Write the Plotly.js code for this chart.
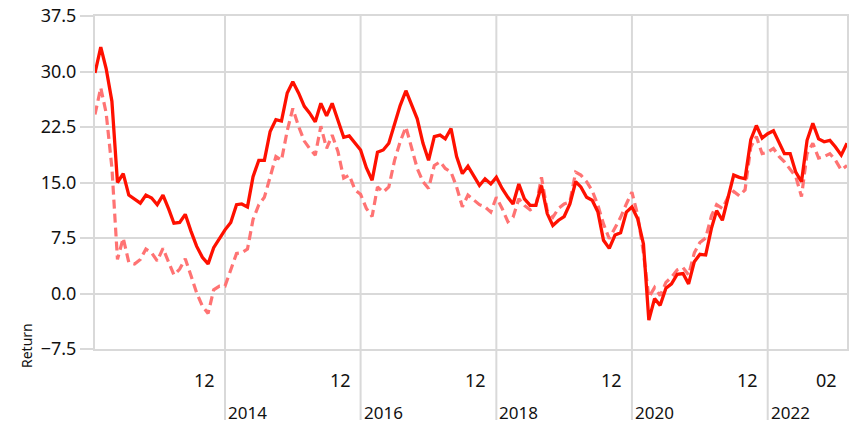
<!DOCTYPE html>
<html>
<head>
<meta charset="utf-8">
<script src="https://cdn.plot.ly/plotly-3.0.1.min.js"></script>
<style>html,body{margin:0;padding:0;background:#fff;}#chart{width:850px;height:425px;}</style>
</head>
<body>
<div id="chart"></div>
<script>
// Monthly observations, Jan 2012 .. Feb 2023
const startYear = 2012;
const startMonth = 1;
const seriesSolid = [
  29.8, 33.3, 30.4, 26.0, 15.0, 16.2, 13.3, 12.7, 12.2, 13.3, 12.9, 12.0,
  13.3, 11.4, 9.5, 9.6, 10.7, 8.4, 6.4, 4.9, 4.0, 6.2, 7.5, 8.6,
  9.6, 12.0, 12.1, 11.7, 15.8, 18.0, 18.0, 21.9, 23.5, 23.3, 27.1, 28.6,
  27.1, 25.3, 24.4, 23.2, 25.7, 24.0, 25.7, 23.5, 21.1, 21.3, 20.3, 19.4,
  17.0, 15.3, 19.1, 19.4, 20.3, 22.9, 25.4, 27.4, 25.4, 23.6, 20.3, 18.0,
  21.2, 21.4, 20.9, 22.3, 18.5, 16.2, 17.2, 15.8, 14.6, 15.5, 14.8, 15.7,
  14.2, 13.0, 12.1, 14.8, 12.8, 11.9, 11.9, 14.6, 10.8, 9.2, 9.9, 10.4,
  12.1, 15.1, 14.4, 13.0, 12.6, 11.0, 7.2, 6.1, 7.9, 8.2, 11.0, 11.7,
  10.1, 6.7, -3.6, -0.7, -1.6, 0.7, 1.3, 2.6, 2.7, 1.3, 4.3, 5.3,
  5.2, 8.8, 11.2, 9.9, 13.0, 16.0, 15.7, 15.5, 20.8, 22.7, 21.0, 21.6,
  22.0, 20.3, 18.9, 18.9, 16.4, 15.1, 20.7, 23.0, 20.9, 20.5, 20.7, 19.8,
  18.7, 20.3
];
const seriesDashed = [
  24.2, 27.8, 24.4, 17.0, 4.6, 7.5, 4.2, 4.0, 4.6, 6.0, 5.5, 4.4,
  6.1, 4.2, 2.5, 3.3, 4.7, 2.4, 0.1, -1.7, -2.7, 0.5, 1.0, 1.0,
  3.2, 5.4, 5.5, 6.0, 10.0, 12.0, 13.0, 15.8, 18.5, 18.0, 22.0, 25.0,
  22.6, 20.6, 19.6, 18.7, 22.6, 19.6, 21.4, 19.2, 15.6, 16.0, 14.0, 13.4,
  11.5, 10.4, 14.4, 13.7, 14.4, 18.0, 20.5, 22.5, 19.6, 16.9, 15.1, 14.2,
  17.3, 17.8, 16.9, 16.4, 14.4, 11.7, 13.3, 12.6, 12.0, 11.7, 11.0, 13.0,
  11.5, 9.7, 10.3, 12.8, 11.9, 11.3, 11.7, 15.7, 11.2, 10.3, 11.5, 12.1,
  12.4, 16.4, 16.0, 15.1, 13.9, 11.9, 9.4, 7.4, 8.8, 10.3, 12.1, 13.7,
  10.6, 5.5, -0.5, 0.8, -0.3, 1.5, 2.2, 3.2, 3.5, 2.5, 5.5, 6.9,
  7.5, 10.5, 12.0, 11.5, 13.0, 13.8, 13.2, 14.0, 19.8, 21.2, 18.9, 19.1,
  19.6, 18.5, 17.8, 16.7, 15.8, 13.1, 18.9, 20.3, 18.3, 18.5, 18.9, 18.0,
  16.7, 17.3
];
const monthTickDates = ['2013-12-01', '2015-12-01', '2017-12-01', '2019-12-01', '2021-12-01', '2023-02-01'];
const monthTickLabels = ['12', '12', '12', '12', '12', '02'];
const yearGridDates = ['2013-12-01', '2015-12-01', '2017-12-01', '2019-12-01', '2021-12-01'];
const yearLabels = ['2014', '2016', '2018', '2020', '2022'];
const yTickVals = [-7.5, 0, 7.5, 15, 22.5, 30, 37.5];
const yTitle = 'Return';

function pad2(n) { return (n < 10 ? '0' : '') + n; }
const months = seriesSolid.map(function (_, i) {
  const m = startMonth - 1 + i;
  return (startYear + Math.floor(m / 12)) + '-' + pad2((m % 12) + 1) + '-01';
});

const FONT = 'Noto Sans, Open Sans, sans-serif';
const GRID = '#d9d9d9';
const H = 425, MT = 16, MB = 76;
const plotH = H - MT - MB;

const traces = [
  {
    x: months, y: seriesDashed, type: 'scatter', mode: 'lines',
    line: { color: '#ff7373', width: 3.2, dash: '9px,5px' },
    hoverinfo: 'skip', showlegend: false
  },
  {
    x: months, y: seriesSolid, type: 'scatter', mode: 'lines',
    line: { color: '#ff1000', width: 3.3 },
    hoverinfo: 'skip', showlegend: false
  }
];

const shapes = yearGridDates.map(function (d) {
  return {
    type: 'line', xref: 'x', yref: 'paper', x0: d, x1: d,
    y0: -71 / plotH, y1: 1, layer: 'below',
    line: { color: GRID, width: 2 }
  };
});

const annotations = [];
monthTickDates.forEach(function (d, i) {
  annotations.push({
    x: d, xref: 'x', y: 0, yref: 'paper', xanchor: 'right', yanchor: 'middle',
    xshift: -8, yshift: -31, showarrow: false, text: monthTickLabels[i],
    font: { family: FONT, size: 18, color: '#111' }
  });
});
yearGridDates.forEach(function (d, i) {
  annotations.push({
    x: d, xref: 'x', y: 0, yref: 'paper', xanchor: 'left', yanchor: 'middle',
    xshift: 1, yshift: -63, showarrow: false, text: yearLabels[i],
    font: { family: FONT, size: 17, color: '#111' }
  });
});
annotations.push({
  x: 0, xref: 'paper', y: 0, yref: 'paper', xanchor: 'center', yanchor: 'middle',
  xshift: -69, yshift: 3, textangle: -90, showarrow: false, text: yTitle,
  font: { family: FONT, size: 14, color: '#111' }
});

const layout = {
  width: 850, height: 425,
  margin: { l: 95, r: 3, t: MT, b: MB, pad: 0 },
  paper_bgcolor: '#fff', plot_bgcolor: '#fff',
  showlegend: false,
  xaxis: {
    type: 'date', range: [months[0], months[months.length - 1]],
    showgrid: false, zeroline: false, showticklabels: false, ticks: '',
    showline: true, mirror: true, linecolor: GRID, linewidth: 2
  },
  yaxis: {
    range: [-7.5, 37.5], tickvals: yTickVals, tickformat: '.1f',
    showgrid: true, gridcolor: GRID, gridwidth: 2, zeroline: false,
    showline: true, mirror: true, linecolor: GRID, linewidth: 2,
    ticks: 'outside', ticklen: 13, tickwidth: 2, tickcolor: GRID,
    tickfont: { family: FONT, size: 18, color: '#111' }
  },
  shapes: shapes,
  annotations: annotations
};

Plotly.newPlot('chart', traces, layout, { staticPlot: true, displayModeBar: false });
</script>
</body>
</html>
